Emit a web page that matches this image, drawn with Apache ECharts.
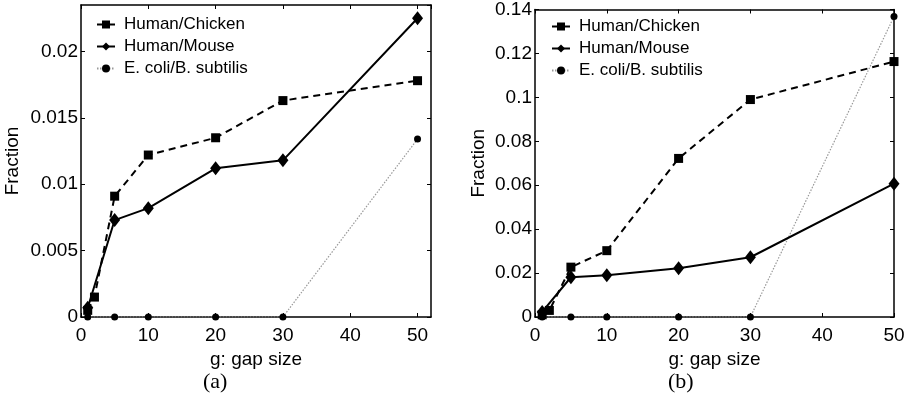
<!DOCTYPE html>
<html>
<head>
<meta charset="utf-8">
<script src="https://cdn.jsdelivr.net/npm/echarts@6/dist/echarts.min.js"></script>
<style>
  html, body { margin: 0; padding: 0; background: #fff; }
  #chart { width: 911px; height: 398px; }
</style>
</head>
<body>
<div id="chart"></div>
<script>
// gap sizes on the x axis
const gapsChicken = [1, 2, 5, 10, 20, 30, 50];
const gapsOther = [1, 5, 10, 20, 30, 50];

// panel (a)
const chickenA = [0.0005, 0.0015, 0.0091, 0.0122, 0.0135, 0.0163, 0.0178];
const mouseA = [0.0007, 0.0073, 0.0082, 0.0112, 0.0118, 0.0225];
const ecoliA = [0, 0, 0, 0, 0, 0.0134];

// panel (b)
const chickenB = [0.001, 0.003, 0.0227, 0.0302, 0.0722, 0.099, 0.1163];
const mouseB = [0.0023, 0.0181, 0.019, 0.0222, 0.0272, 0.0607];
const ecoliB = [0, 0, 0, 0, 0, 0.1368];

const NAMES = ['Human/Chicken', 'Human/Mouse', 'E. coli/B. subtilis'];
const FONT = 'Liberation Sans, Arial, sans-serif';

const pairs = (xs, ys) => xs.map((x, i) => [x, ys[i]]);

const chart = echarts.init(document.getElementById('chart'));

const frameLine = { show: true, onZero: false, lineStyle: { color: '#000', width: 1.5 } };
const innerTick = { show: true, inside: true, length: 4, lineStyle: { color: '#000', width: 1 } };

function bottomAxis(grid, max) {
  return {
    type: 'value', gridIndex: grid, position: 'bottom', min: 0, max: max, interval: 10,
    axisLine: frameLine, axisTick: innerTick, splitLine: { show: false },
    axisLabel: { color: '#000', fontSize: 19, fontFamily: FONT, margin: 9, showMaxLabel: max === 50 },
    name: 'g: gap size', nameLocation: 'middle', nameGap: 30,
    nameTextStyle: { color: '#000', fontSize: 19, fontFamily: FONT }
  };
}
function topAxis(grid, max) {
  return {
    type: 'value', gridIndex: grid, position: 'top', min: 0, max: max, interval: 10,
    axisLine: frameLine, axisTick: innerTick, axisLabel: { show: false }, splitLine: { show: false }
  };
}
function leftAxis(grid, max, step, gap, showMax) {
  return {
    type: 'value', gridIndex: grid, position: 'left', min: 0, max: max, interval: step,
    axisLine: frameLine, axisTick: innerTick, splitLine: { show: false },
    axisLabel: { color: '#000', fontSize: 19, fontFamily: FONT, margin: 3, showMaxLabel: showMax },
    name: 'Fraction', nameLocation: 'middle', nameGap: gap, nameRotate: 90,
    nameTextStyle: { color: '#000', fontSize: 19, fontFamily: FONT }
  };
}
function rightAxis(grid, max, step) {
  return {
    type: 'value', gridIndex: grid, position: 'right', min: 0, max: max, interval: step,
    axisLine: frameLine, axisTick: innerTick, axisLabel: { show: false }, splitLine: { show: false }
  };
}

function seriesFor(grid, chicken, mouse, ecoli) {
  const xi = grid * 2, yi = grid * 2;
  return [
    {
      name: NAMES[0], type: 'line', xAxisIndex: xi, yAxisIndex: yi,
      data: pairs(gapsChicken, chicken), symbol: 'rect', symbolSize: 9,
      itemStyle: { color: '#000' }, lineStyle: { color: '#000', width: 2, type: [7, 5] }
    },
    {
      name: NAMES[1], type: 'line', xAxisIndex: xi, yAxisIndex: yi,
      data: pairs(gapsOther, mouse), symbol: 'diamond', symbolSize: [11, 14],
      itemStyle: { color: '#000' }, lineStyle: { color: '#000', width: 2 }
    },
    {
      name: NAMES[2], type: 'line', xAxisIndex: xi, yAxisIndex: yi,
      data: pairs(gapsOther, ecoli), symbol: 'circle', symbolSize: 7, z: 1,
      itemStyle: { color: '#000' }, lineStyle: { color: '#999', width: 1.2, type: [1.5, 1.5] }
    }
  ];
}

function legendAt(left, top) {
  return {
    data: NAMES, orient: 'vertical', left: left, top: top,
    itemWidth: 18, itemHeight: 10, itemGap: 5, selectedMode: false,
    textStyle: { color: '#000', fontSize: 17, fontFamily: FONT, padding: [0, 0, 0, 4] }
  };
}

const option = {
  animation: false,
  backgroundColor: '#fff',
  grid: [
    { left: 81, right: 480, top: 5, bottom: 81 },
    { left: 535, right: 17, top: 8, bottom: 81 }
  ],
  xAxis: [bottomAxis(0, 52), topAxis(0, 52), bottomAxis(1, 50), topAxis(1, 50)],
  yAxis: [leftAxis(0, 0.0235, 0.005, 59, false), rightAxis(0, 0.0235, 0.005),
          leftAxis(1, 0.14, 0.02, 47, true), rightAxis(1, 0.14, 0.02)],
  legend: [legendAt(91, 11), legendAt(546, 13)],
  series: [].concat(
    seriesFor(0, chickenA, mouseA, ecoliA),
    seriesFor(1, chickenB, mouseB, ecoliB)
  ),
  graphic: [
    { type: 'text', left: 203, top: 371, style: { text: '(a)', fill: '#000', font: '22px "Liberation Serif", serif' } },
    { type: 'text', left: 668, top: 371, style: { text: '(b)', fill: '#000', font: '22px "Liberation Serif", serif' } }
  ]
};

chart.setOption(option);
</script>
</body>
</html>
